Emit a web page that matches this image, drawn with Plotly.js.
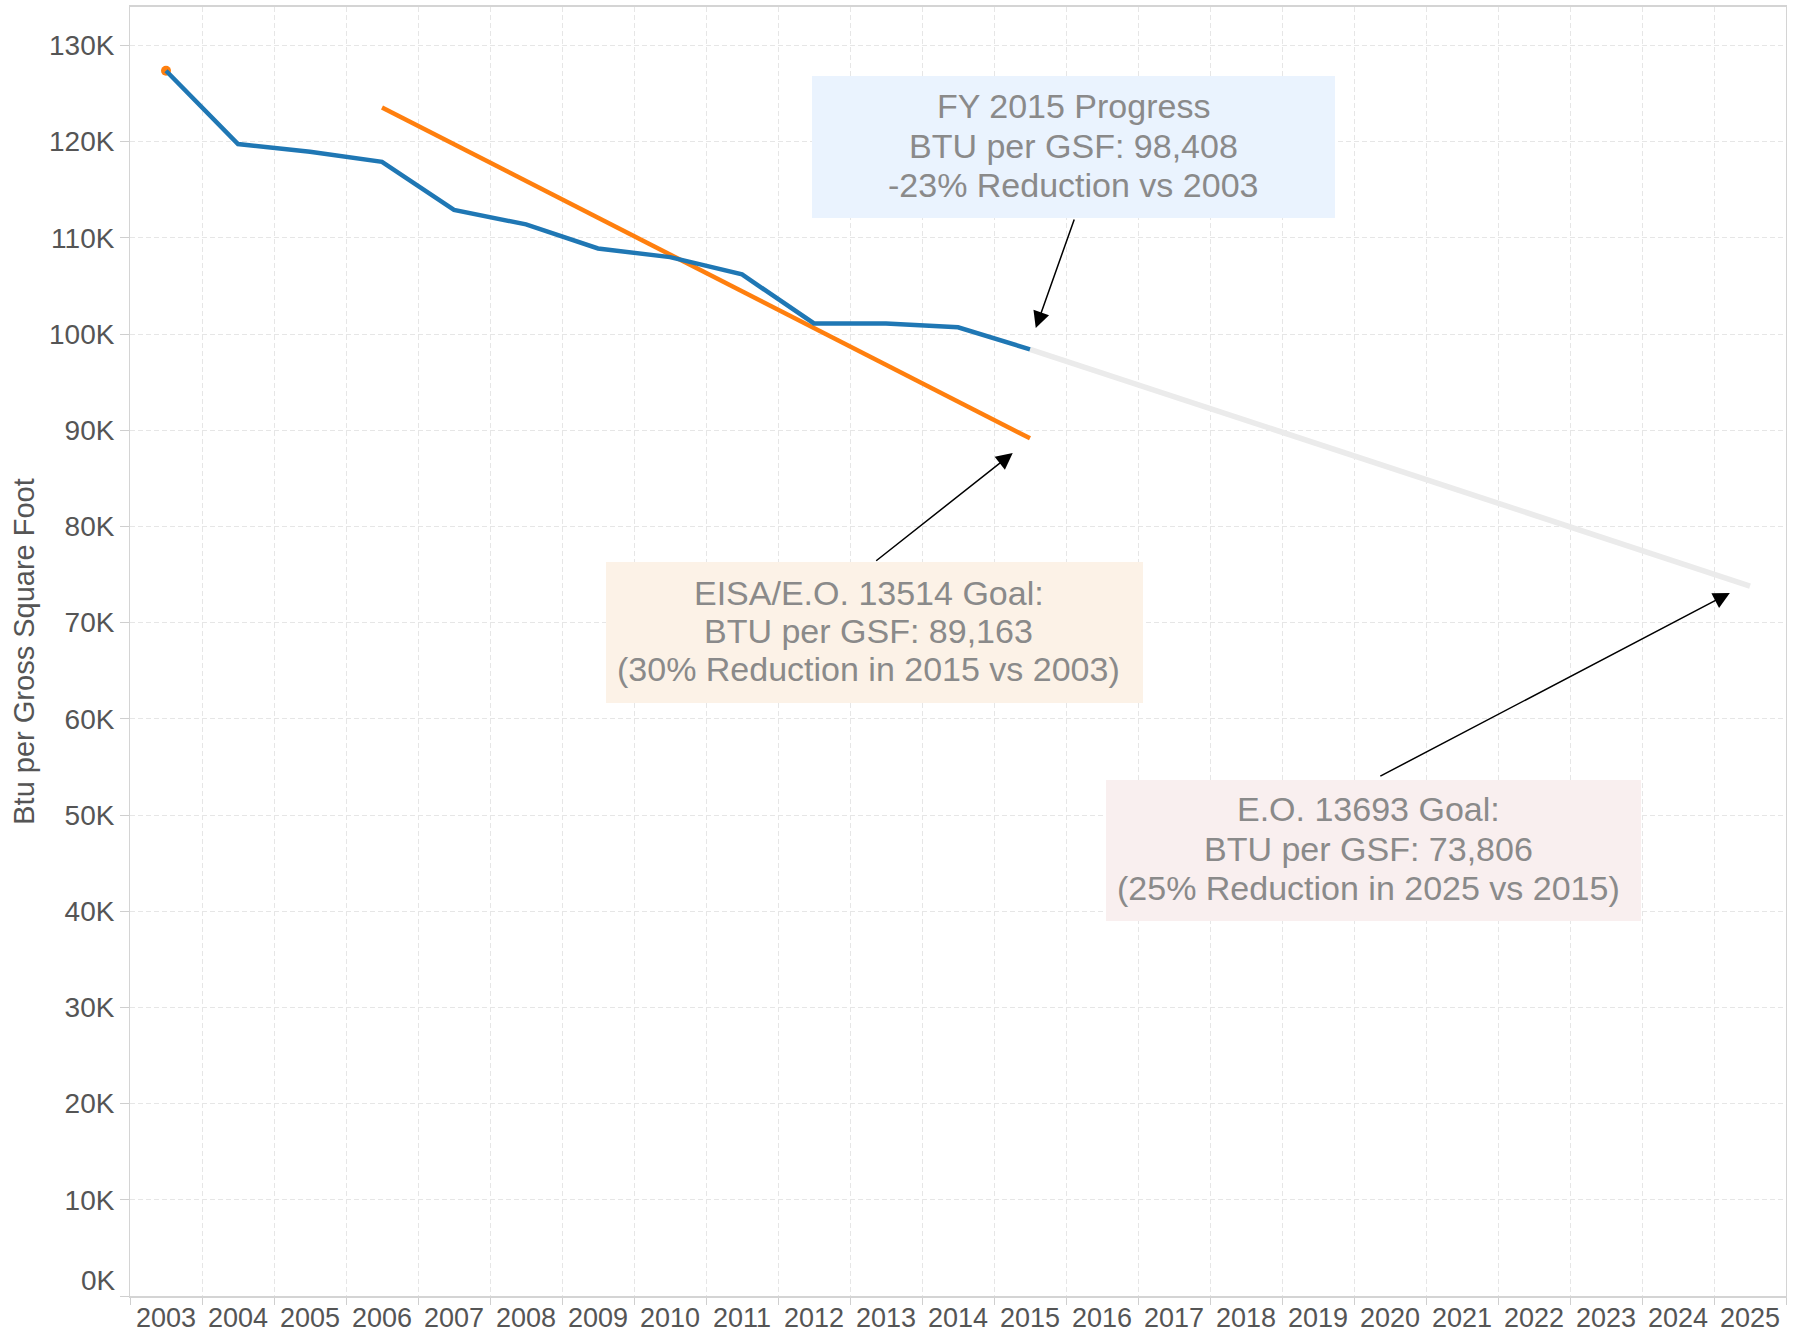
<!DOCTYPE html>
<html>
<head>
<meta charset="utf-8">
<script src="https://cdn.plot.ly/plotly-3.0.1.min.js"></script>
<style>html,body{margin:0;padding:0;background:#fff;}#chart{width:1797px;height:1333px;}</style>
</head>
<body>
<div id="chart"></div>
<script>
// ---- Data ----
const years = [2003,2004,2005,2006,2007,2008,2009,2010,2011,2012,2013,2014,2015,2016,2017,2018,2019,2020,2021,2022,2023,2024,2025];
const yearLabels = years.map(String);

const actualYears = [2003,2004,2005,2006,2007,2008,2009,2010,2011,2012,2013,2014,2015];
const actualBtu   = [127376,119750,118950,117900,112900,111400,108900,108000,106200,101100,101100,100700,98408];

const eisaBaseYear = [2003];
const eisaBaseBtu  = [127376];
const eisaYears = [2006,2007,2008,2009,2010,2011,2012,2013,2014,2015];
const eisaBtu   = [123555,119733,115912,112091,108270,104448,100627,96806,92984,89163];

const eo13693Years = [2015,2025];
const eo13693Btu   = [98408,73806];

const yTickVals = [0,10000,20000,30000,40000,50000,60000,70000,80000,90000,100000,110000,120000,130000];
const yTickText = ['','10K','20K','30K','40K','50K','60K','70K','80K','90K','100K','110K','120K','130K'];
const yZeroLabel = '0K';

const boxProgressLines = ['FY 2015 Progress', 'BTU per GSF: 98,408', '-23% Reduction vs 2003'];
const boxEisaLines = ['EISA/E.O. 13514 Goal:', 'BTU per GSF: 89,163', '(30% Reduction in 2015 vs 2003)'];
const boxEoLines = ['E.O. 13693 Goal:', 'BTU per GSF: 73,806', '(25% Reduction in 2025 vs 2015)'];

// ---- Styles ----
const FONT = '"Liberation Sans", Arial, sans-serif';
const BLUE = '#1f77b4', ORANGE = '#ff7f0e', GREY = '#ebebeb';
const GRID = '#e6e6e6';
const TXT = '#8a8a8a';

const traces = [
  {x: eo13693Years, y: eo13693Btu, mode: 'lines', line: {color: GREY, width: 5.5}, hoverinfo: 'skip'},
  {x: eisaYears, y: eisaBtu, mode: 'lines', line: {color: ORANGE, width: 4.5}},
  {x: eisaBaseYear, y: eisaBaseBtu, mode: 'markers', marker: {color: ORANGE, size: 10}},
  {x: actualYears, y: actualBtu, mode: 'lines', line: {color: BLUE, width: 4.5}}
];

const boxShape = (x0, x1, y0, y1, bg) => ({
  type: 'rect', xref: 'x', yref: 'y', x0: x0, x1: x1, y0: y0, y1: y1,
  fillcolor: bg, line: {width: 0}, layer: 'above'
});
const lineAnns = (lines, x, ys) => lines.map((t, i) => ({
  text: t, x: x, y: ys[i], xref: 'x', yref: 'y', showarrow: false,
  xanchor: 'center', yanchor: 'middle',
  font: {family: FONT, size: 34, color: TXT}
}));
const annArrow = (x, y, ax, ay) => ({
  text: '', x: x, y: y, xref: 'x', yref: 'y', ax: ax, ay: ay,
  showarrow: true, arrowhead: 2, arrowsize: 2.2, arrowwidth: 1.5, arrowcolor: '#000', standoff: 0
});

const layout = {
  width: 1797, height: 1333,
  margin: {l: 130, r: 11, t: 7, b: 37},
  paper_bgcolor: '#fff', plot_bgcolor: '#fff',
  showlegend: false,
  font: {family: FONT, size: 28, color: '#555'},
  xaxis: {
    range: [2002.5, 2025.5], tickmode: 'array', tickvals: years, ticktext: yearLabels,
    showgrid: false, ticks: '', zeroline: false, ticklabelstandoff: -3,
    tickfont: {family: FONT, size: 27, color: '#555'},
    showline: true, linecolor: '#d4d4d4', linewidth: 2, mirror: true,
    minor: {tickmode: 'linear', tick0: 2002.5, dtick: 1, ticks: 'outside', ticklen: 7, tickcolor: '#cfcfcf', tickwidth: 1,
            showgrid: true, gridcolor: GRID, gridwidth: 1, griddash: '5px,3px'}
  },
  yaxis: {
    range: [0, 134000], tickmode: 'array', tickvals: yTickVals, ticktext: yTickText,
    showgrid: true, gridcolor: GRID, gridwidth: 1, griddash: '5px,3px',
    ticks: 'outside', ticklen: 9, tickcolor: '#cfcfcf', zeroline: false,
    showline: true, linecolor: '#d4d4d4', linewidth: 1, mirror: true,
    tickfont: {family: FONT, size: 28, color: '#555'},
    title: {text: 'Btu per Gross Square Foot', font: {family: FONT, size: 29, color: '#555'}, standoff: 5}
  },
  shapes: [
    boxShape(2011.972, 2019.236, 112060, 126830, '#eaf3fe'),
    boxShape(2009.111, 2016.569, 61650, 76300, '#fcf2e7'),
    boxShape(2016.056, 2023.486, 38980, 53640, '#f9efef')
  ],
  annotations: [].concat(
    lineAnns(boxProgressLines, 2015.604, [123710, 119550, 115490]),
    lineAnns(boxEisaLines, 2012.757, [73130, 69130, 65130]),
    lineAnns(boxEoLines, 2019.701, [50630, 46470, 42420]),
    [
      annArrow(2015.08, 100630, 39, -110),
      annArrow(2014.76, 87640, -138, 109),
      annArrow(2024.72, 73090, -351, 184),
      {text: yZeroLabel, x: 0, y: 0, xref: 'paper', yref: 'y', xanchor: 'right', yanchor: 'middle',
       xshift: -12, yshift: 16, showarrow: false, font: {family: FONT, size: 28, color: '#555'}}
    ]
  )
};

Plotly.newPlot('chart', traces, layout, {displayModeBar: false, staticPlot: true});
</script>
</body>
</html>
